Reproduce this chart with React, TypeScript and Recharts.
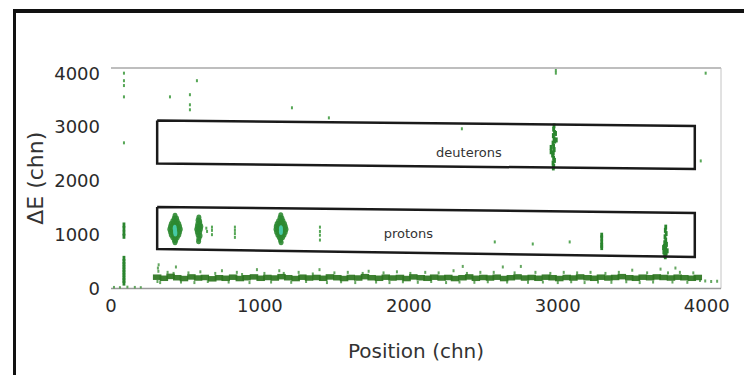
import React from 'react';
import {
  ScatterChart, Scatter, XAxis, YAxis, ReferenceLine, ReferenceDot, Label,
} from 'recharts';

// ---- axis ticks ----
const xTicks = [0, 1000, 2000, 3000, 4000];
const yTicks = [0, 1000, 2000, 3000, 4000];
const axisMax = 4096;

// ---- selection boxes (position, ΔE corners) ----
const deuteronBox: [number, number][] = [
  [310, 3120], [3920, 3020], [3920, 2220], [310, 2320], [310, 3120],
];
const protonBox: [number, number][] = [
  [310, 1516], [3920, 1404], [3920, 586], [310, 735], [310, 1516],
];
const boxLabels = [
  { name: 'deuterons', x: 2403, y: 2520 },
  { name: 'protons', x: 1997, y: 1032 },
];

// ---- low-ΔE band (dense core) ----
const bandCore: [number, number][] = [
  [310, 210], [355, 190], [400, 225], [445, 200], [490, 185], [540, 215], [585, 195], [630, 205],
  [680, 180], [725, 200], [770, 190], [820, 210], [865, 185], [910, 200], [960, 215], [1005, 190],
  [1050, 205], [1100, 195], [1145, 220], [1190, 200], [1240, 185], [1285, 210], [1330, 195],
  [1380, 205], [1425, 190], [1470, 215], [1520, 200], [1565, 185], [1610, 205], [1660, 195],
  [1705, 220], [1750, 200], [1800, 190], [1845, 210], [1890, 195], [1940, 205], [1985, 185],
  [2030, 215], [2080, 200], [2125, 190], [2170, 210], [2220, 195], [2265, 205], [2310, 185],
  [2360, 200], [2405, 215], [2450, 190], [2500, 205], [2545, 195], [2590, 210], [2640, 185],
  [2685, 200], [2730, 215], [2780, 195], [2825, 205], [2870, 190], [2920, 210], [2965, 200],
  [3010, 185], [3060, 205], [3105, 195], [3150, 215], [3200, 200], [3245, 190], [3290, 210],
  [3340, 195], [3385, 205], [3430, 220], [3480, 200], [3525, 190], [3570, 210], [3620, 200],
  [3665, 215], [3710, 205], [3760, 195], [3805, 210], [3850, 200], [3900, 190], [3940, 205],
];

// ---- band fringe (sparse events around the band) ----
const bandFringe: [number, number][] = [
  [320, 440], [315, 380], [318, 320], [312, 130], [330, 110], [380, 300], [420, 280], [436, 400],
  [470, 120], [520, 290], [560, 110], [600, 310], [650, 130], [700, 280], [745, 330], [790, 120],
  [845, 300], [880, 260], [930, 110], [980, 350], [1030, 280], [1075, 120], [1130, 330], [1160, 280],
  [1210, 115], [1260, 300], [1310, 130], [1355, 270], [1400, 350], [1450, 110], [1500, 290],
  [1545, 125], [1590, 300], [1640, 110], [1690, 280], [1730, 320], [1780, 120], [1830, 290],
  [1870, 110], [1920, 310], [1960, 125], [2010, 280], [2060, 115], [2110, 300], [2150, 130],
  [2200, 290], [2250, 110], [2300, 330], [2362, 410], [2340, 120], [2390, 280], [2440, 115],
  [2480, 300], [2530, 125], [2570, 300], [2631, 400], [2660, 120], [2710, 290], [2752, 410],
  [2800, 115], [2850, 300], [2900, 120], [2950, 280], [3000, 110], [3040, 300], [3090, 125],
  [3130, 290], [3180, 110], [3220, 300], [3270, 120], [3320, 280], [3360, 115], [3410, 300],
  [3460, 125], [3500, 340], [3550, 110], [3600, 290], [3640, 120], [3690, 360], [3740, 290],
  [3770, 120], [3790, 380], [3820, 300], [3870, 115], [3910, 290], [3955, 150], [3990, 140],
  [4030, 130], [4070, 135], [20, 20], [60, 15], [110, 25], [160, 20], [200, 15],
];

// ---- narrow vertical streaks ----
const streakEvents: [number, number][] = [
  // streak near position 87
  [87, 100], [87, 150], [87, 200], [87, 250], [87, 300], [87, 350], [87, 400], [87, 450],
  [87, 500], [87, 560], [87, 970], [87, 1030], [87, 1110], [87, 1180],
  // streak ~3295
  [3295, 990], [3295, 940], [3295, 860], [3295, 800], [3295, 760],
  // streak ~3725
  [3725, 1140], [3722, 1080], [3728, 1020], [3720, 960], [3725, 900], [3718, 850], [3730, 820],
  [3715, 780], [3725, 740], [3720, 700], [3728, 660], [3718, 620], [3722, 590], [3710, 760],
  [3735, 700], [3712, 680],
  // deuteron streak ~2973
  [2975, 3020], [2972, 2960], [2978, 2900], [2970, 2840], [2975, 2780], [2980, 2740], [2968, 2700],
  [2972, 2640], [2976, 2580], [2970, 2520], [2965, 2480], [2972, 2420], [2978, 2380], [2968, 2330],
  [2973, 2270], [2970, 2240], [2955, 2540], [2990, 2760], [2955, 2620], [2985, 2880],
];

// ---- proton blobs ----
const blobEvents: [number, number][] = [
  // ~430
  [430, 1350], [425, 1300], [440, 1300], [415, 1250], [430, 1250], [445, 1250], [405, 1200],
  [420, 1200], [440, 1200], [455, 1200], [400, 1150], [415, 1150], [430, 1150], [445, 1150],
  [460, 1150], [395, 1100], [410, 1100], [450, 1100], [465, 1100], [400, 1050], [415, 1050],
  [445, 1050], [460, 1050], [405, 1000], [420, 1000], [440, 1000], [455, 1000], [415, 950],
  [430, 950], [445, 950], [425, 900], [435, 900], [430, 860],
  // ~590
  [590, 1320], [585, 1270], [595, 1250], [583, 1200], [597, 1200], [580, 1150], [592, 1150],
  [603, 1150], [576, 1100], [588, 1100], [600, 1100], [580, 1050], [595, 1050],
  [585, 1000], [598, 980], [590, 930], [588, 880],
  // ~1141
  [1140, 1360], [1135, 1310], [1148, 1300], [1125, 1250], [1140, 1250], [1155, 1250], [1115, 1200],
  [1130, 1200], [1150, 1200], [1165, 1200], [1110, 1150], [1125, 1150], [1140, 1150], [1155, 1150],
  [1170, 1150], [1108, 1100], [1122, 1100], [1160, 1100], [1175, 1100], [1112, 1050], [1128, 1050],
  [1155, 1050], [1170, 1050], [1120, 1000], [1135, 1000], [1150, 1000], [1162, 1000], [1130, 950],
  [1142, 950], [1152, 950], [1138, 900], [1142, 860],
];

// ---- cores of the densest proton blobs ----
const blobCores: [number, number][] = [
  [428, 1120], [430, 1070], [432, 1030], [1141, 1110], [1141, 1060],
];

// ---- isolated events ----
const isolatedEvents: [number, number][] = [
  [87, 4000], [87, 3860], [87, 3770], [87, 3560], [396, 3560], [530, 3600], [530, 3413],
  [530, 3320], [577, 3860], [87, 2706], [1215, 3357], [1463, 3170], [2356, 2967], [3960, 2370],
  [3993, 4000], [2987, 4000], [2987, 4050],
  [640, 1120], [645, 1060], [678, 1140], [678, 1080], [678, 1000],
  [832, 1140], [832, 1080], [832, 1020], [832, 950],
  [1403, 1140], [1403, 1060], [1403, 990], [1403, 900],
  [2577, 865], [2832, 827], [3080, 865],
];

const toPts = (arr: [number, number][]) => arr.map(([x, y]) => ({ x, y }));

const FONT = '"DejaVu Sans", sans-serif';

const rectShape = (w: number, h: number, fill: string, op = 1) => (p: any) => (
  <rect x={p.cx - w / 2} y={p.cy - h / 2} width={w} height={h} fill={fill} fillOpacity={op} />
);
const ellShape = (rx: number, ry: number, fill: string, op = 1) => (p: any) => (
  <ellipse cx={p.cx} cy={p.cy} rx={rx} ry={ry} fill={fill} fillOpacity={op} />
);
const noShape = () => <g />;

export default function App() {
  return (
    <div style={{ position: 'absolute', left: 0, top: 0, width: 744, height: 375, background: '#fff', overflow: 'hidden' }}>
      <div style={{ position: 'absolute', left: 13, top: 9, width: 740, height: 380, borderTop: '4px solid #111', borderLeft: '3px solid #111' }} />
      <div style={{ position: 'absolute', left: 0, top: 0 }}>
        <ScatterChart width={744} height={375} margin={{ top: 68, right: 23, bottom: 46.5, left: 11 }}>
          <XAxis
            type="number" dataKey="x" domain={[0, axisMax]} ticks={xTicks} height={40}
            axisLine={{ stroke: '#9a9a9a', strokeWidth: 1.5 }} tickLine={false} tickSize={0} tickMargin={11}
            tick={{ fill: '#2a2a2a', fontSize: 18, fontFamily: FONT }} allowDataOverflow
          >
            <Label
              content={({ viewBox }: any) => (
                <text x={viewBox.x + viewBox.width / 2} y={viewBox.y + 64} textAnchor="middle" dominantBaseline="middle"
                  fill="#333" fontSize={20} fontFamily={FONT}>Position (chn)</text>
              )}
            />
          </XAxis>
          <YAxis
            type="number" dataKey="y" domain={[0, axisMax]} ticks={yTicks} width={100}
            axisLine={false} tickLine={false} tickSize={0} tickMargin={11}
            tick={{ fill: '#2a2a2a', fontSize: 18, fontFamily: FONT }} allowDataOverflow
          >
            <Label
              content={({ viewBox }: any) => {
                const cx = viewBox.x + 26;
                const cy = viewBox.y + viewBox.height / 2;
                return (
                  <text x={cx} y={cy} transform={`rotate(-90 ${cx} ${cy})`} textAnchor="middle" dominantBaseline="middle"
                    fill="#333" fontSize={22} fontFamily={FONT}>ΔE (chn)</text>
                );
              }}
            />
          </YAxis>
          <ReferenceLine y={axisMax} stroke="#a8a8a8" strokeWidth={1.5} />
          <ReferenceLine x={axisMax} stroke="#c4c4c4" strokeWidth={1} />

          <Scatter data={toPts(bandFringe)} shape={rectShape(2, 3, '#3f913a', 0.8)} isAnimationActive={false} />
          <Scatter data={toPts(bandCore)} shape={rectShape(8.5, 5.5, '#2c7520', 0.92)} isAnimationActive={false} />
          <Scatter data={toPts(isolatedEvents)} shape={rectShape(2, 3, '#3a983a', 0.85)} isAnimationActive={false} />
          <Scatter data={toPts(streakEvents)} shape={rectShape(2.8, 5, '#2a852e')} isAnimationActive={false} />
          <Scatter data={toPts(blobEvents)} shape={ellShape(2.5, 3, '#2d8a32', 0.9)} isAnimationActive={false} />
          <Scatter data={toPts(blobCores)} shape={ellShape(2, 3.5, '#46c9a6')} isAnimationActive={false} />

          <Scatter data={toPts(deuteronBox)} line={{ stroke: '#1a1a1a', strokeWidth: 2.5 }} shape={noShape} isAnimationActive={false} />
          <Scatter data={toPts(protonBox)} line={{ stroke: '#1a1a1a', strokeWidth: 2.5 }} shape={noShape} isAnimationActive={false} />

          {boxLabels.map((b) => (
            <ReferenceDot key={b.name} x={b.x} y={b.y} r={0} fill="none" stroke="none"
              label={{ value: b.name, position: 'center', fill: '#333', fontSize: 13, fontFamily: FONT }} />
          ))}
        </ScatterChart>
      </div>
    </div>
  );
}
